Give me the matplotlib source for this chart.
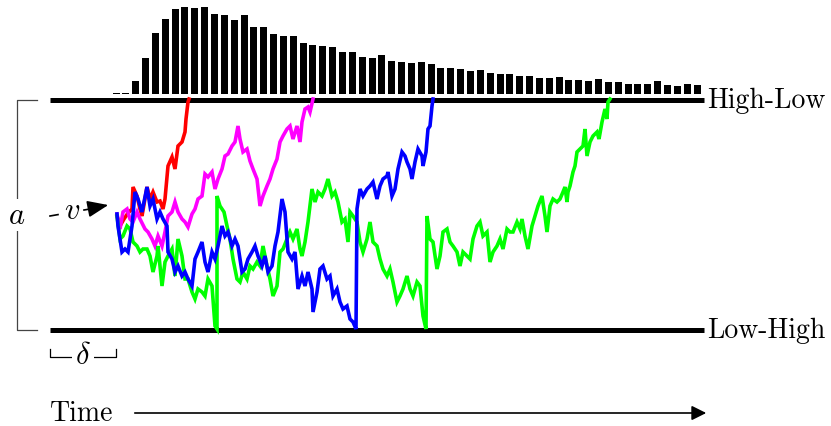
import numpy as np
import matplotlib
matplotlib.use('Agg')
import matplotlib.pyplot as plt

plt.rcParams['mathtext.fontset'] = 'cm'

# histogram of upper-boundary crossing times (bar heights, px)
hist_heights = [1.3, 1.3, 12.7, 35.7, 61, 75.3, 85.3, 87.3, 85.7, 86.7,
                79.7, 78.7, 74, 79, 66.7, 66.7, 60, 58.3, 58.3, 51.3,
                49, 48.3, 46.7, 41.7, 42, 37.3, 36.3, 38.7, 33.3, 32.3,
                30.7, 31.7, 29.7, 26, 25.7, 25.3, 23, 24.3, 20.7, 20,
                20, 18.3, 17.7, 16, 15.7, 17.3, 14, 14, 13, 15.3,
                12, 11.7, 10.3, 10.3, 9.7, 12.7, 9.3, 8, 10, 9.3]

# sample diffusion paths (time, evidence)
red_path = [(117, 217), (120, 227), (124, 220), (128, 214), (132, 210), (133, 188),
            (137, 197), (140, 210), (142, 217), (147, 188), (150, 200), (153, 193),
            (157, 203), (160, 202), (163, 210), (165, 200), (168, 167), (172, 158),
            (175, 170), (178, 147), (182, 143), (185, 133), (186, 120), (188, 103),
            (189, 100)]

magenta_path = [(117, 215), (120, 230), (123, 213), (127, 210), (130, 220), (133, 223),
                (137, 213), (140, 220), (145, 230), (148, 233), (152, 240), (155, 247),
                (158, 237), (162, 247), (165, 233), (168, 217), (172, 213), (175, 203),
                (178, 213), (182, 220), (185, 223), (188, 228), (192, 215), (195, 210),
                (198, 200), (202, 197), (205, 175), (208, 178), (212, 173), (215, 190),
                (218, 180), (222, 170), (225, 157), (228, 155), (232, 147), (235, 143),
                (238, 127), (240, 140), (243, 153), (247, 150), (250, 162), (253, 170),
                (257, 180), (260, 207), (263, 197), (267, 187), (270, 180), (273, 170),
                (277, 160), (280, 143), (283, 137), (287, 130), (290, 127), (293, 140),
                (297, 127), (300, 143), (302, 123), (305, 110), (308, 108), (310, 113),
                (313, 100)]

blue_path = [(117, 215), (118, 227), (122, 253), (125, 250), (128, 253), (132, 227),
             (135, 193), (138, 200), (142, 213), (147, 188), (150, 207), (153, 200),
             (157, 220), (160, 213), (163, 220), (167, 227), (168, 253), (172, 260),
             (175, 273), (178, 267), (182, 277), (185, 273), (188, 280), (192, 287),
             (195, 260), (198, 253), (202, 243), (205, 263), (208, 273), (212, 253),
             (215, 260), (218, 247), (222, 227), (225, 237), (228, 233), (232, 247),
             (235, 240), (238, 247), (242, 273), (245, 270), (248, 260), (252, 253),
             (255, 247), (258, 257), (262, 267), (265, 257), (268, 273), (272, 267),
             (275, 247), (278, 233), (282, 200), (285, 213), (288, 253), (292, 260),
             (295, 253), (298, 290), (302, 277), (305, 287), (308, 273), (312, 290),
             (313, 313), (317, 293), (320, 270), (323, 267), (327, 280), (330, 277),
             (333, 297), (337, 290), (340, 303), (343, 310), (347, 307), (350, 320),
             (353, 323), (356, 330), (357, 210), (358, 203), (360, 190), (363, 197),
             (367, 190), (370, 187), (373, 183), (377, 200), (380, 187), (383, 180),
             (387, 177), (388, 173), (392, 197), (395, 190), (398, 170), (402, 153),
             (405, 157), (407, 163), (410, 170), (412, 180), (415, 163), (418, 150),
             (422, 157), (423, 167), (426, 153), (428, 130), (430, 127), (432, 107),
             (433, 100)]

green_path = [(117, 217), (120, 240), (123, 237), (127, 227), (130, 230), (133, 243),
              (137, 247), (140, 253), (143, 250), (147, 250), (150, 257), (153, 273),
              (157, 257), (158, 247), (162, 287), (165, 263), (168, 257), (172, 250),
              (175, 277), (178, 240), (182, 257), (185, 280), (188, 280), (192, 293),
              (195, 300), (198, 290), (202, 293), (205, 297), (208, 280), (212, 287),
              (215, 327), (217, 330), (217, 197), (220, 207), (224, 213), (227, 227),
              (230, 240), (233, 260), (237, 280), (240, 283), (243, 273), (247, 280),
              (250, 267), (253, 270), (257, 263), (260, 267), (263, 247), (267, 267),
              (270, 280), (273, 297), (277, 287), (280, 253), (283, 250), (287, 240),
              (290, 233), (293, 240), (297, 230), (300, 250), (302, 257), (305, 243),
              (308, 223), (312, 190), (315, 203), (318, 193), (322, 197), (325, 190),
              (328, 180), (332, 197), (335, 193), (338, 203), (342, 223), (345, 220),
              (348, 243), (350, 213), (353, 217), (357, 223), (360, 243), (363, 253),
              (367, 240), (370, 223), (373, 243), (377, 247), (380, 260), (383, 270),
              (387, 277), (390, 270), (393, 283), (397, 303), (400, 297), (403, 290),
              (407, 277), (410, 290), (413, 297), (417, 283), (420, 287), (423, 317),
              (426, 330), (427, 217), (430, 240), (433, 243), (437, 270), (440, 257),
              (443, 233), (447, 230), (450, 243), (453, 247), (457, 253), (460, 267),
              (463, 253), (467, 257), (470, 260), (473, 240), (477, 227), (480, 223),
              (483, 237), (487, 233), (490, 263), (493, 253), (497, 247), (500, 240),
              (503, 250), (507, 230), (510, 233), (513, 233), (517, 223), (520, 230),
              (522, 220), (525, 237), (528, 250), (532, 227), (535, 217), (538, 207),
              (542, 197), (545, 217), (547, 233), (550, 207), (553, 200), (557, 203),
              (560, 200), (563, 193), (565, 188), (567, 203), (568, 193), (570, 187),
              (573, 173), (575, 167), (577, 153), (580, 150), (583, 147), (585, 130),
              (587, 157), (590, 143), (593, 137), (597, 133), (599, 140), (602, 123),
              (605, 110), (607, 120), (608, 103), (610, 100)]

path_colors = ['#ff0000', '#ff00ff', '#00ff00', '#0000ff']

upper_y, lower_y = 100.5, 331
x_start, x_end = 50, 704

fig = plt.figure(figsize=(8.31, 4.27), dpi=100)
ax = fig.add_axes([0, 0, 1, 1])
ax.set_xlim(0, 831)
ax.set_ylim(427, 0)
ax.axis('off')

# boundaries
ax.plot([x_start, x_end], [upper_y, upper_y], color='black', lw=3.6, solid_capstyle='butt')
ax.plot([x_start, x_end], [lower_y, lower_y], color='black', lw=3.6, solid_capstyle='butt')

serif = dict(family='cmr10', fontsize=20)
ax.text(707, upper_y, 'High-Low', va='center', ha='left', **serif)
ax.text(707, lower_y, 'Low-High', va='center', ha='left', **serif)

# histogram of crossing times
bin_x = np.linspace(116, 697, len(hist_heights))
h = np.array(hist_heights)
ax.bar(bin_x, -h, bottom=95, width=7, color='black', linewidth=0)

# paths
for path, c in zip([red_path, magenta_path, green_path, blue_path], path_colors):
    px, py = zip(*path)
    ax.plot(px, py, color=c, lw=2.6, solid_joinstyle='miter')

# a bracket
ax.plot([37, 17, 17, 37], [upper_y, upper_y, lower_y, lower_y], color='#444444', lw=0.9)
ax.text(17, 216, r'$a$', fontsize=22, ha='center', va='center',
        bbox=dict(facecolor='white', edgecolor='none', pad=1))

# drift v arrow: dash, v, dash, arrowhead
ax.plot([50, 58, np.nan, 84, 90], [217, 215.6, np.nan, 211, 210], color='black', lw=1.2)
ax.annotate('', xy=(111, 205.5), xytext=(93, 209),
            arrowprops=dict(arrowstyle='-|>,head_length=0.4,head_width=0.16',
                            color='black', lw=1.2, mutation_scale=32))
ax.text(72, 211, r'$v$', fontsize=22, ha='center', va='center')

# delta bracket
ax.plot([50, 50, 116, 116], [350, 358, 358, 350], color='black', lw=0.9)
ax.text(83, 356, r'$\delta$', fontsize=22, ha='center', va='center',
        bbox=dict(facecolor='white', edgecolor='none', pad=2))

# time axis
ax.text(50, 414, 'Time', ha='left', va='center', **serif)
ax.annotate('', xy=(709, 414), xytext=(132, 414),
            arrowprops=dict(arrowstyle='-|>', color='black', lw=1.2, mutation_scale=22))

fig.savefig('out.png', dpi=100)
